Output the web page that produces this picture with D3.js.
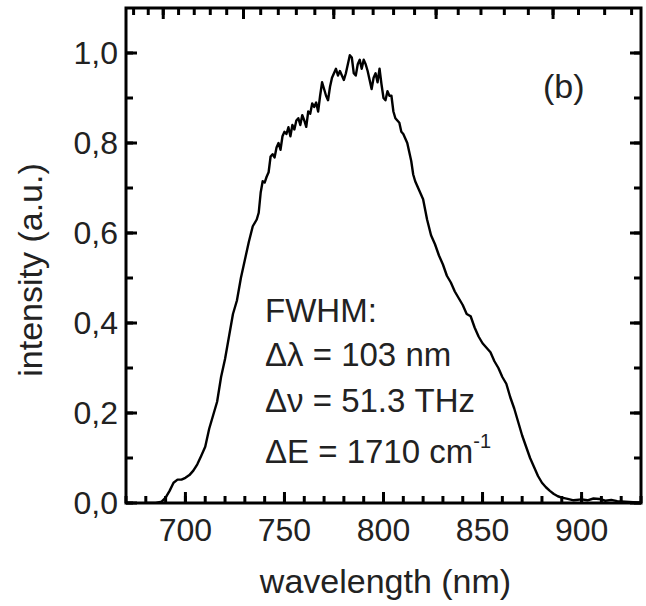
<!DOCTYPE html>
<html>
<head>
<meta charset="utf-8">
<script src="https://cdn.jsdelivr.net/npm/d3@7"></script>
<style>
  body { margin: 0; background: #fff; }
  text { font-family: "Liberation Sans", Arial, sans-serif; fill: #222; }
</style>
</head>
<body>
<div id="chart"></div>
<script>
// spectrum
const wavelength = [680,685,688,690,692,694,696,698,700,702,704,706,708,710,712,714,716,718,720,722,724,726,728,730,732,734,736,737,738,739,740,741,742,743,744,745,746,747,748,749,750,751,752,753,754,755,756,757,758,759,760,761,762,763,764,765,766,767,768,769,770,771,772,773,774,775,776,777,778,779,780,781,782,783,784,785,786,787,788,789,790,791,792,793,794,795,796,797,798,799,800,801,802,803,804,805,806,807,808,809,810,811,812,813,814,815,816,818,820,822,824,826,828,830,832,834,836,838,840,842,844,846,848,850,852,854,856,858,860,862,864,866,868,870,872,874,876,878,880,882,884,886,888,890,893,896,900,903,906,909,912,915,918,922,926,930];
const intensity  = [0,0,0.003,0.012,0.027,0.045,0.052,0.052,0.056,0.062,0.072,0.086,0.105,0.125,0.165,0.195,0.225,0.28,0.32,0.37,0.42,0.45,0.5,0.54,0.58,0.615,0.63,0.645,0.69,0.715,0.712,0.725,0.735,0.77,0.775,0.768,0.79,0.8,0.785,0.815,0.825,0.82,0.835,0.815,0.84,0.83,0.85,0.855,0.84,0.862,0.85,0.836,0.87,0.865,0.888,0.88,0.89,0.87,0.905,0.935,0.92,0.905,0.895,0.925,0.945,0.955,0.965,0.95,0.96,0.95,0.94,0.955,0.975,0.995,0.99,0.955,0.95,0.975,0.985,0.965,0.985,0.975,0.96,0.94,0.92,0.945,0.955,0.935,0.965,0.93,0.9,0.895,0.915,0.905,0.905,0.87,0.855,0.85,0.845,0.825,0.82,0.81,0.8,0.78,0.76,0.73,0.715,0.695,0.675,0.63,0.595,0.575,0.55,0.53,0.505,0.49,0.47,0.455,0.44,0.42,0.415,0.39,0.37,0.355,0.345,0.335,0.315,0.3,0.28,0.265,0.235,0.21,0.18,0.15,0.125,0.1,0.08,0.06,0.045,0.035,0.027,0.02,0.015,0.012,0.009,0.006,0.008,0.006,0.01,0.009,0.005,0.007,0.004,0.003,0.002,0];

const xTicks = [700,750,800,850,900];
const yTicks = [0,0.2,0.4,0.6,0.8,1.0];
const yTickLabels = ["0,0","0,2","0,4","0,6","0,8","1,0"];
const energyTicks = [1.4,1.5,1.6,1.7,1.8];   // top axis, eV, unlabelled
const fwhmLines = ["FWHM:", "\u0394\u03bb = 103 nm", "\u0394\u03bd = 51.3 THz", "\u0394E = 1710 cm"];

const W = 646, H = 606;
const MARGIN = { LEFT: 126, RIGHT: 5, TOP: 8, BOTTOM: 103 };

const svg = d3.select("#chart").append("svg")
  .attr("width", W).attr("height", H);

const x = d3.scaleLinear().domain([670, 930]).range([MARGIN.LEFT, W - MARGIN.RIGHT]);
const y = d3.scaleLinear().domain([0, 1.1]).range([H - MARGIN.BOTTOM, MARGIN.TOP]);
const toNm = e => 1239.84 / e;
const x0 = x.range()[0], x1 = x.range()[1], y0 = y.range()[0], y1 = y.range()[1];

// clip for curve
svg.append("clipPath").attr("id", "clip")
  .append("rect")
  .attr("x", x0).attr("y", y1)
  .attr("width", x1 - x0).attr("height", y0 - y1);

const pts = wavelength.map((w, i) => [w, intensity[i]]);
svg.append("path")
  .datum(pts)
  .attr("clip-path", "url(#clip)")
  .attr("fill", "none")
  .attr("stroke", "#000")
  .attr("stroke-width", 2.4)
  .attr("stroke-linejoin", "round")
  .attr("d", d3.line().x(d => x(d[0])).y(d => y(d[1])));

// frame
svg.append("rect")
  .attr("x", x0).attr("y", y1)
  .attr("width", x1 - x0).attr("height", y0 - y1)
  .attr("fill", "none").attr("stroke", "#000").attr("stroke-width", 3);

// inward ticks on all four sides
const MAJ = 11, MIN = 7;
const minorX = d3.range(670, 931, 10);
const minorY = d3.range(0, 1.05, 0.1);
const minorE = d3.range(1.34, 1.845, 0.02);
const tg = svg.append("g").attr("stroke", "#000").attr("stroke-width", 3);

function hTicks(vals, len, ybase, dir) {
  vals.forEach(v => {
    tg.append("line")
      .attr("x1", x(v)).attr("x2", x(v))
      .attr("y1", ybase).attr("y2", ybase + dir * len);
  });
}
function vTicks(vals, len, xbase, dir) {
  vals.forEach(v => {
    tg.append("line")
      .attr("x1", xbase).attr("x2", xbase + dir * len)
      .attr("y1", y(v)).attr("y2", y(v));
  });
}
hTicks(minorX, MIN, y0, -1);
hTicks(xTicks, MAJ, y0, -1);
hTicks(minorE.map(toNm), MIN, y1, 1);
hTicks(energyTicks.map(toNm), MAJ, y1, 1);
vTicks(minorY, MIN, x0, 1);
vTicks(yTicks, MAJ, x0, 1);
vTicks(minorY, MIN, x1, -1);
vTicks(yTicks, MAJ, x1, -1);

// tick labels
svg.append("g").selectAll("text").data(xTicks).join("text")
  .attr("x", d => x(d)).attr("y", 541)
  .attr("text-anchor", "middle").attr("font-size", 32)
  .text(d3.format("d"));
svg.append("g").selectAll("text").data(yTicks).join("text")
  .attr("x", x0 - 8).attr("y", d => y(d)).attr("dy", "0.35em")
  .attr("text-anchor", "end").attr("font-size", 32)
  .text((d, i) => yTickLabels[i]);

// axis titles
svg.append("text")
  .attr("x", (x0 + x1) / 2 + 2).attr("y", 593)
  .attr("text-anchor", "middle").attr("font-size", 34)
  .text("wavelength (nm)");
svg.append("text")
  .attr("transform", "translate(42,270) rotate(-90)")
  .attr("text-anchor", "middle").attr("font-size", 34)
  .text("intensity (a.u.)");

// panel tag
svg.append("text").attr("x", 543).attr("y", 98).attr("font-size", 34).text("(b)");

// FWHM annotation
const baselines = [322, 366, 412, 463];
const ann = svg.append("g");
fwhmLines.forEach((s, i) => {
  const t = ann.append("text").attr("x", 265).attr("y", baselines[i]).attr("font-size", 33).text(s);
  if (i === 3) t.append("tspan").attr("font-size", 20).attr("dy", -15).text("-1");
});
</script>
</body>
</html>
